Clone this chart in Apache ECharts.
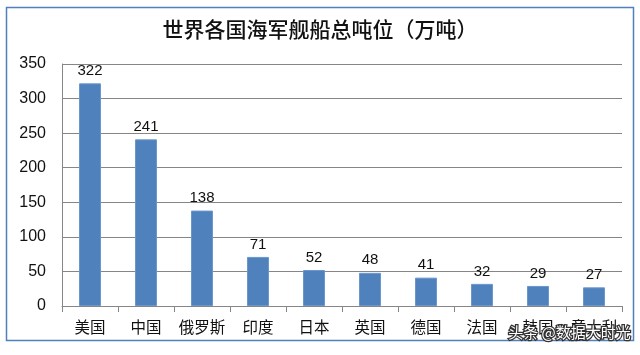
<!DOCTYPE html>
<html><head><meta charset="utf-8">
<script src="https://cdn.jsdelivr.net/npm/echarts@6/dist/echarts.min.js"></script>
<style>html,body{margin:0;padding:0;background:#fff}#c{width:640px;height:355px}</style>
</head><body><div id="c"></div>
<script>
const categories = ['美国','中国','俄罗斯','印度','日本','英国','德国','法国','韩国','意大利'];
const values = [322, 241, 138, 71, 52, 48, 41, 32, 29, 27];
const titleText = '世界各国海军舰船总吨位（万吨）';
const watermark = '头条 @数据大时光';

const chart = echarts.init(document.getElementById('c'), null, {renderer:'canvas'});
chart.setOption({
  animation: false,
  backgroundColor: '#fff',
  title: {
    text: titleText, left: 'center', top: 14,
    textStyle: {fontFamily: 'Noto Sans CJK SC', fontSize: 21, fontWeight: 500, color: '#111'}
  },
  grid: {left: 62, right: 18, top: 64, bottom: 49},
  xAxis: {
    type: 'category', data: categories,
    axisLine: {lineStyle: {color: '#868686', width: 1}},
    axisTick: {show: true, length: 6, lineStyle: {color: '#868686'}},
    axisLabel: {interval: 0, fontFamily: 'Noto Sans CJK SC', fontSize: 15.5, color: '#111', margin: 13}
  },
  yAxis: {
    type: 'value', min: 0, max: 350, interval: 50,
    axisLine: {show: true, lineStyle: {color: '#868686'}},
    axisTick: {show: false},
    splitLine: {lineStyle: {color: '#868686', width: 1}},
    axisLabel: {fontFamily: 'Liberation Sans', fontSize: 16, color: '#111', margin: 16}
  },
  series: [{
    type: 'bar', data: values, barWidth: 22,
    itemStyle: {color: '#4F81BD', borderColor: '#6A96CC', borderWidth: 1},
    label: {show: true, position: 'top', distance: 5, fontFamily: 'Liberation Sans', fontSize: 15, color: '#111'}
  }],
  graphic: [
    {type: 'rect', shape: {x: 6.5, y: 7.5, width: 627, height: 333}, style: {fill: null, stroke: '#4F81BD', lineWidth: 1.5}, silent: true},
    {type: 'text', right: 8, top: 324, style: {text: watermark, fontFamily: 'Noto Sans CJK SC', fontSize: 15, fill: '#fff', stroke: '#333', lineWidth: 2.5}, z: 100}
  ]
});
</script></body></html>
